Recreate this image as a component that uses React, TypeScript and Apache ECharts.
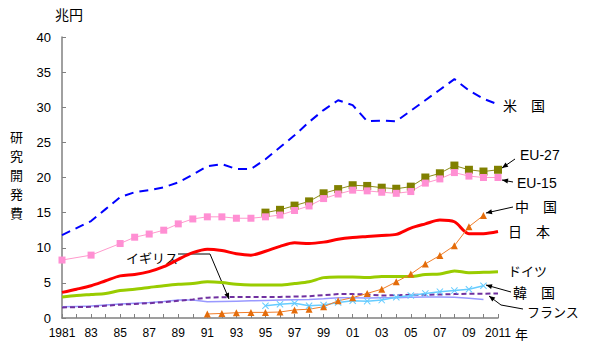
import React, { useEffect, useRef } from "react";
import * as echarts from "echarts";

const xLabels = [
  "1981", "82", "83", "84", "85", "86", "87", "88", "89", "90",
  "91", "92", "93", "94", "95", "96", "97", "98", "99", "00",
  "01", "02", "03", "04", "05", "06", "07", "08", "09", "10", "2011",
];

const usa = [11.8, 12.8, 13.8, 15.5, 17.2, 17.9, 18.2, 18.6, 19.3, 20.4, 21.6, 21.9, 21.2, 21.2, 22.6, 24.3, 26.0, 27.9, 29.6, 31.0, 30.3, 28.0, 28.1, 28.0, 29.5, 31.0, 32.5, 34.0, 32.4, 31.2, 30.4];
const eu27 = [null, null, null, null, null, null, null, null, null, null, null, null, null, null, 15.0, 15.4, 16.0, 16.6, 17.75, 18.35, 18.9, 18.8, 18.55, 18.4, 18.7, 20.0, 20.6, 21.7, 21.1, 20.85, 21.1];
const eu15 = [8.25, null, 8.95, null, 10.6, 11.5, 11.95, 12.5, 13.4, 14.1, 14.4, 14.4, 14.2, 14.2, 14.4, 14.65, 15.3, 15.95, 17.0, 17.65, 18.2, 18.1, 17.9, 17.75, 18.0, 19.2, 19.8, 20.7, 20.2, 20.0, 20.0];
const china = [null, null, null, null, null, null, null, null, null, null, 0.57, 0.65, 0.75, 0.8, 0.8, 0.85, 1.15, 1.25, 1.6, 2.45, 2.9, 3.5, 4.1, 5.15, 6.25, 7.7, 8.9, 10.3, 13.0, 14.6, null];
const japan = [3.65, 4.1, 4.6, 5.3, 6.0, 6.2, 6.6, 7.3, 8.35, 9.3, 9.8, 9.6, 9.15, 8.95, 9.5, 10.2, 10.7, 10.6, 10.8, 11.2, 11.45, 11.6, 11.75, 11.9, 12.8, 13.4, 13.95, 13.7, 12.0, 12.0, 12.3];
const germany = [3.0, 3.2, 3.35, 3.5, 3.9, 4.1, 4.35, 4.6, 4.8, 4.9, 5.15, 5.05, 4.8, 4.7, 4.7, 4.7, 4.9, 5.15, 5.75, 5.85, 5.85, 5.75, 5.9, 5.9, 5.9, 6.2, 6.25, 6.7, 6.45, 6.5, 6.6];
const korea = [null, null, null, null, null, null, null, null, null, null, null, null, null, null, 1.75, 1.95, 2.1, 1.75, 1.85, 2.2, 2.45, 2.4, 2.55, 2.95, 3.2, 3.5, 3.75, 3.9, 4.1, 4.6, null];
const france = [1.5, 1.55, 1.6, 1.75, 1.9, 2.0, 2.1, 2.25, 2.45, 2.65, 2.9, 2.95, 3.0, 3.0, 3.0, 3.0, 3.05, 3.1, 3.25, 3.4, 3.4, 3.35, 3.2, 3.25, 3.3, 3.3, 3.35, 3.4, 3.45, 3.45, 3.5];
const uk = [1.6, 1.65, 1.7, 1.85, 2.0, 2.1, 2.2, 2.35, 2.55, 2.55, 2.3, 2.35, 2.4, 2.45, 2.5, 2.55, 2.6, 2.65, 2.75, 2.9, 2.9, 2.85, 2.9, 2.9, 2.95, 3.0, 3.0, 2.95, 2.8, 2.65, null];

const yTitleChars = ["研", "究", "開", "発", "費"];

const JP = '"Noto Sans CJK JP", sans-serif';
const LAT = '"Liberation Sans", Arial, sans-serif';

function arrow(points: number[][]) {
  const n = points.length;
  const [x1, y1] = points[n - 2];
  const [x2, y2] = points[n - 1];
  const dx = x2 - x1, dy = y2 - y1;
  const L = Math.hypot(dx, dy);
  const ux = dx / L, uy = dy / L;
  const len = 6, w = 2.5;
  const bx = x2 - ux * len, by = y2 - uy * len;
  const tri = [[x2, y2], [bx - uy * w, by + ux * w], [bx + uy * w, by - ux * w]];
  return [
    { type: "polyline", silent: true, shape: { points }, style: { stroke: "#000", lineWidth: 1, fill: null } },
    { type: "polygon", silent: true, shape: { points: tri }, style: { fill: "#000" } },
  ];
}

function label(text: string, x: number, y: number, font: string) {
  return { type: "text", x, y, silent: true, style: { text, font, fill: "#000", verticalAlign: "middle", align: "left" } };
}

const xSymbol = "path://M0,1L1,0L5,4L9,0L10,1L6,5L10,9L9,10L5,6L1,10L0,9L4,5Z";

export default function App() {
  const ref = useRef<HTMLDivElement>(null);
  useEffect(() => {
    if (!ref.current) return;
    const chart = echarts.init(ref.current, null, { renderer: "svg" });
    chart.setOption({
      animation: false,
      backgroundColor: "#fff",
      grid: { left: 62, right: 102, top: 37, bottom: 41, containLabel: false, outerBoundsMode: "none" },
      xAxis: {
        type: "category",
        data: xLabels,
        boundaryGap: false,
        axisLine: { show: true, lineStyle: { color: "#808080", width: 1.5 } },
        axisTick: { show: true, inside: true, length: 4, interval: 0, lineStyle: { color: "#808080" } },
        axisLabel: { interval: 1, margin: 9, color: "#000", fontSize: 12, fontFamily: LAT },
        splitLine: { show: false },
      },
      yAxis: {
        type: "value",
        min: 0,
        max: 40,
        interval: 5,
        axisLine: { show: true, lineStyle: { color: "#808080", width: 1.5 } },
        axisTick: { show: true, inside: true, length: 4, lineStyle: { color: "#808080" } },
        axisLabel: { margin: 11, color: "#000", fontSize: 13, fontFamily: LAT },
        splitLine: { show: false },
      },
      series: [
        { name: "米国", type: "line", data: usa, showSymbol: false, symbol: "none", lineStyle: { color: "#0000ff", width: 2, type: [9, 6] } },
        { name: "EU-27", type: "line", data: eu27, symbol: "rect", symbolSize: 8, connectNulls: true, itemStyle: { color: "#808000" }, lineStyle: { color: "#8c8c1a", width: 1 } },
        { name: "EU-15", type: "line", data: eu15, symbol: "rect", symbolSize: 7, connectNulls: true, itemStyle: { color: "#ff8fd3" }, lineStyle: { color: "#ff99cc", width: 1 } },
        { name: "日本", type: "line", data: japan, symbol: "none", smooth: 0.3, lineStyle: { color: "#ff0000", width: 3 } },
        { name: "ドイツ", type: "line", data: germany, symbol: "none", smooth: 0.3, lineStyle: { color: "#99cc00", width: 3 } },
        { name: "イギリス", type: "line", data: uk, symbol: "none", lineStyle: { color: "#9999ff", width: 1.5 } },
        { name: "フランス", type: "line", data: france, symbol: "none", lineStyle: { color: "#7030a0", width: 2, type: [5, 3] } },
        { name: "韓国", type: "line", data: korea, symbol: xSymbol, symbolSize: 7, itemStyle: { color: "#66ccff" }, lineStyle: { color: "#66ccff", width: 1.5 } },
        { name: "中国", type: "line", data: china, symbol: "triangle", symbolSize: 7, itemStyle: { color: "#e46c0a" }, lineStyle: { color: "#f07d28", width: 1 } },
      ],
      graphic: [
        label("兆円", 55, 14, `14px ${JP}`),
        ...yTitleChars.map((c, i) => label(c, 10, 136 + i * 19, `13px ${JP}`)),
        label("年", 515, 333, `13px ${JP}`),
        label("米　国", 503, 105, `14px ${JP}`),
        label("EU-27", 520, 155, `14px ${LAT}`),
        label("EU-15", 517, 183, `14px ${LAT}`),
        label("中　国", 515, 206, `14px ${JP}`),
        label("日　本", 508, 231, `14px ${JP}`),
        label("ドイツ", 508, 270, `13px ${JP}`),
        label("韓　国", 513, 292, `14px ${JP}`),
        label("フランス", 527, 311, `13px ${JP}`),
        label("イギリス", 126, 257, `13px ${JP}`),
        ...arrow([[515, 159], [502, 168]]),
        ...arrow([[513, 182], [502, 180]]),
        ...arrow([[513, 207], [486, 213]]),
        ...arrow([[511, 292], [486, 285]]),
        ...arrow([[523, 309], [501, 305], [489, 296]]),
        ...arrow([[178, 254], [210, 254], [229, 299]]),
      ],
    });
    return () => chart.dispose();
  }, []);
  return <div ref={ref} style={{ position: "fixed", left: 0, top: 0, width: 600, height: 359 }} />;
}
